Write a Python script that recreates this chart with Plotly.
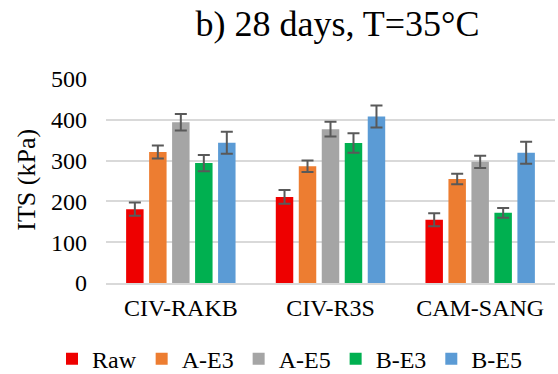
import plotly.graph_objects as go

categories = ["CIV-RAKB", "CIV-R3S", "CAM-SANG"]
series_names = ["Raw", "A-E3", "A-E5", "B-E3", "B-E5"]
raw = [181, 211, 155]
a_e3 = [321, 286, 255]
a_e5 = [394, 377, 297]
b_e3 = [294, 343, 172]
b_e5 = [344, 408, 319]
raw_err = [16, 17, 16]
a_e3_err = [16, 14, 13]
a_e5_err = [20, 18, 15]
b_e3_err = [20, 24, 12]
b_e5_err = [27, 27, 27]
colors = ["#EE0000", "#ED7D31", "#A5A5A5", "#00B050", "#5B9BD5"]
y_ticks = [0, 100, 200, 300, 400, 500]

values = [raw, a_e3, a_e5, b_e3, b_e5]
errors = [raw_err, a_e3_err, a_e5_err, b_e3_err, b_e5_err]

FONT = "Liberation Serif"

fig = go.Figure()
for name, vals, errs, col in zip(series_names, values, errors, colors):
    fig.add_trace(go.Bar(
        x=categories, y=vals, name=name,
        marker=dict(color=col, line=dict(width=0)),
        error_y=dict(type="data", array=errs, visible=True,
                     color="#595959", thickness=2, width=6),
    ))

W, H = 558, 374
L, R, T, B = 106, 3, 79, 91
PW, PH = W - L - R, H - T - B

fig.update_layout(
    width=W, height=H,
    margin=dict(l=L, r=R, t=T, b=B, autoexpand=False),
    paper_bgcolor="white", plot_bgcolor="white",
    font=dict(family=FONT, size=24, color="#000000"),
    barmode="group", bargap=0.232, bargroupgap=0.24,
    title=dict(text="b) 28 days, T=35°C", font=dict(family=FONT, size=36, color="#000"),
               x=337.5 / W, xanchor="center", xref="container",
               y=1 - 23.5 / H, yanchor="middle", yref="container"),
    legend=dict(orientation="h", x=(52 - L) / PW, xanchor="left", xref="paper",
                y=(283.3 - 359.5) / PH, yanchor="middle", yref="paper",
                font=dict(family=FONT, size=24, color="#000"),
                bgcolor="rgba(0,0,0,0)", itemclick=False),
    showlegend=True,
)
fig.update_xaxes(
    showgrid=False, showline=True, linecolor="#D9D9D9", linewidth=2,
    ticks="", tickfont=dict(family=FONT, size=24, color="#000"),
    ticklabelstandoff=2, automargin=False,
)
fig.update_yaxes(
    range=[0, 500], tickvals=y_ticks, showgrid=True, gridcolor="#D9D9D9", gridwidth=1.5,
    zeroline=False, showline=False, ticks="",
    tickfont=dict(family=FONT, size=24, color="#000"),
    ticklabelstandoff=18, automargin=False,
)
fig.add_annotation(
    text="ITS (kPa)", textangle=-90, showarrow=False,
    xref="paper", yref="paper", x=(27 - L) / PW, y=(283.3 - 180) / PH,
    xanchor="center", yanchor="middle",
    font=dict(family=FONT, size=26, color="#000"),
)
fig.write_html("out.html")
